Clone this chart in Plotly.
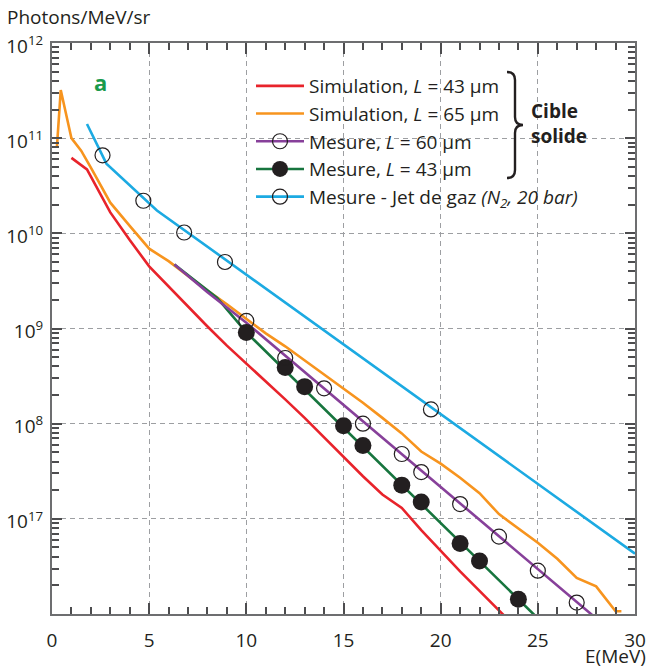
import plotly.graph_objects as go

# ---------------- data ----------------
sim43_x = [1, 1.8, 3, 4, 5, 6, 7, 8, 9, 10, 11, 12, 13, 14, 15, 16, 17, 18, 19, 20, 21, 22, 23, 24]
sim43_y = [6.2e10, 4.7e10, 1.66e10, 8.5e9, 4.5e9, 2.75e9, 1.7e9, 1.05e9, 6.6e8, 4.3e8, 2.75e8, 1.8e8,
           1.15e8, 7.2e7, 4.5e7, 2.8e7, 1.8e7, 1.3e7, 7.6e6, 4.6e6, 2.8e6, 1.75e6, 1.1e6, 6.8e5]

sim65_x = [0.25, 0.45, 1, 1.5, 2, 3, 4, 5, 6, 7, 8, 9, 10, 11, 12, 13, 14, 15, 16, 17, 18, 19, 20,
           21, 22, 23, 24, 25, 26, 27, 28, 29, 29.3]
sim65_y = [7.9e10, 3.2e11, 1.0e11, 7.4e10, 4.9e10, 2.1e10, 1.2e10, 6.9e9, 5.1e9, 3.55e9, 2.5e9, 1.8e9,
           1.26e9, 8.9e8, 6.5e8, 4.6e8, 3.3e8, 2.35e8, 1.66e8, 1.15e8, 7.9e7, 5.1e7, 3.8e7, 2.7e7,
           1.86e7, 1.12e7, 7.9e6, 5.6e6, 3.8e6, 2.4e6, 1.95e6, 1.07e6, 1.07e6]

mes60_line_x = [6.3, 8, 10, 28]
mes60_line_y = [4.7e9, 2.4e9, 1.15e9, 9.0e5]
mes60_x = [10, 12, 14, 16, 18, 19, 21, 23, 25, 27]
mes60_y = [1.2e9, 4.9e8, 2.35e8, 1.0e8, 4.8e7, 3.1e7, 1.43e7, 6.5e6, 2.85e6, 1.32e6]

mes43_line_x = [6.3, 8.5, 10, 25]
mes43_line_y = [4.7e9, 2.1e9, 9.1e8, 9.0e5]
mes43_x = [10, 12, 13, 15, 16, 18, 19, 21, 22, 24]
mes43_y = [9.1e8, 3.9e8, 2.45e8, 9.5e7, 5.9e7, 2.26e7, 1.5e7, 5.5e6, 3.6e6, 1.43e6]

gas_line_x = [1.8, 2.8, 5.4, 30]
gas_line_y = [1.41e11, 5.4e10, 1.74e10, 4.3e6]
gas_x = [2.6, 4.7, 6.8, 8.9, 19.5]
gas_y = [6.6e10, 2.2e10, 1.02e10, 5.0e9, 1.41e8]

y_tickvals = [1e7, 1e8, 1e9, 1e10, 1e11, 1e12]
y_ticktext = ["10<sup>17</sup>", "10<sup>8</sup>", "10<sup>9</sup>", "10<sup>10</sup>",
              "10<sup>11</sup>", "10<sup>12</sup>"]
x_tickvals = [0, 5, 10, 15, 20, 25, 30]

legend_names = [
    "Simulation, <i>L</i> = 43 μm",
    "Simulation, <i>L</i> = 65 μm",
    "Mesure, <i>L</i> = 60 μm",
    "Mesure, <i>L</i> = 43 μm",
    "Mesure - Jet de gaz <i>(N<sub>2</sub>, 20 bar)</i>",
]

# ---------------- styling ----------------
RED = "#e8232b"
ORANGE = "#f7941e"
PURPLE = "#87409a"
GREEN = "#17753e"
BLUE = "#1caae2"
INK = "#231f20"
FONT = "Open Sans"
LW = 2.6

W, H = 652, 668
ML, MR, MT, MB = 52, 17, 43, 54
PW, PH = W - ML - MR, H - MT - MB


def px(xpix):
    return (xpix - ML) / PW


def py(ypix):
    return (H - MB - ypix) / PH


def gaps(xs, ys):
    gx, gy = [], []
    for a, b in zip(xs, ys):
        gx += [a, None]
        gy += [b, None]
    return gx, gy


fig = go.Figure()

open_marker = dict(symbol="circle", size=15, color="rgba(255,255,255,0)",
                   line=dict(color=INK, width=1.2))
filled_marker = dict(symbol="circle", size=17, color=INK, line=dict(color=INK, width=0))

fig.add_trace(go.Scatter(x=sim43_x, y=sim43_y, mode="lines", name=legend_names[0],
                         legendgroup="g1", legendrank=1, line=dict(color=RED, width=LW)))
fig.add_trace(go.Scatter(x=sim65_x, y=sim65_y, mode="lines", name=legend_names[1],
                         legendgroup="g2", legendrank=2, line=dict(color=ORANGE, width=LW)))

# measurement lines (green below purple)
fig.add_trace(go.Scatter(x=mes43_line_x, y=mes43_line_y, mode="lines", showlegend=False,
                         legendgroup="g4", line=dict(color=GREEN, width=LW), hoverinfo="skip"))
fig.add_trace(go.Scatter(x=mes60_line_x, y=mes60_line_y, mode="lines", showlegend=False,
                         legendgroup="g3", line=dict(color=PURPLE, width=LW), hoverinfo="skip"))

# measurement markers
gx, gy = gaps(mes43_x, mes43_y)
fig.add_trace(go.Scatter(x=gx, y=gy, mode="lines+markers", name=legend_names[3], legendgroup="g4",
                         legendrank=4, connectgaps=False, line=dict(color=GREEN, width=LW),
                         marker=filled_marker))
gx, gy = gaps(mes60_x, mes60_y)
fig.add_trace(go.Scatter(x=gx, y=gy, mode="lines+markers", name=legend_names[2], legendgroup="g3",
                         legendrank=3, connectgaps=False, line=dict(color=PURPLE, width=LW),
                         marker=open_marker))

# gas jet
fig.add_trace(go.Scatter(x=gas_line_x, y=gas_line_y, mode="lines", showlegend=False,
                         legendgroup="g5", line=dict(color=BLUE, width=LW), hoverinfo="skip"))
gx, gy = gaps(gas_x, gas_y)
fig.add_trace(go.Scatter(x=gx, y=gy, mode="lines+markers", name=legend_names[4], legendgroup="g5",
                         legendrank=5, connectgaps=False, line=dict(color=BLUE, width=LW),
                         marker=open_marker))

axis_common = dict(
    showline=True, linecolor="#6d6e70", linewidth=2, mirror="ticks",
    ticks="inside", tickcolor="#4d4d4f", tickwidth=1.5,
    showgrid=True, gridcolor="#9d9fa2", gridwidth=1, griddash="5px,4px",
    zeroline=False, tickfont=dict(family=FONT, size=19, color=INK),
    automargin=False,
)

minor_y = []
for e in range(6, 12):
    for k in range(2, 10):
        minor_y.append(k * 10 ** e)

fig.update_xaxes(range=[0, 30], tickmode="array", tickvals=x_tickvals, ticklen=11,
                 minor=dict(dtick=1, tick0=0, ticks="inside", ticklen=7, tickwidth=1.5,
                            tickcolor="#4d4d4f", showgrid=False),
                 ticklabelstandoff=8, **axis_common)
fig.update_yaxes(type="log", range=[6, 12], tickmode="array", tickvals=y_tickvals,
                 ticktext=y_ticktext, ticklen=10, ticklabelshift=3,
                 minor=dict(tickmode="array", tickvals=minor_y, ticks="inside", ticklen=7,
                            tickwidth=1.5, tickcolor="#4d4d4f", showgrid=False),
                 ticklabelstandoff=3, **axis_common)

# white box behind legend (covers grid)
shapes = [
    dict(type="rect", xref="paper", yref="paper", x0=px(249), x1=px(597), y0=py(215), y1=1,
         fillcolor="white", line=dict(width=0), layer="between"),
]
# brace
bp = [(507, 72), (515, 72), (515, 80), (515, 117), (515, 125), (523, 125), (515, 125), (515, 133),
      (515, 170), (515, 178), (507, 178)]
P = [(px(a), py(b)) for a, b in bp]
path = ("M {0[0]},{0[1]} Q {1[0]},{1[1]} {2[0]},{2[1]} L {3[0]},{3[1]} Q {4[0]},{4[1]} {5[0]},{5[1]} "
        "Q {6[0]},{6[1]} {7[0]},{7[1]} L {8[0]},{8[1]} Q {9[0]},{9[1]} {10[0]},{10[1]}").format(*P)
shapes.append(dict(type="path", xref="paper", yref="paper", path=path,
                   line=dict(color=INK, width=2.4), layer="above"))

annotations = [
    dict(text="Photons/MeV/sr", xref="paper", yref="paper", x=px(5), y=py(17),
         xanchor="left", yanchor="middle", showarrow=False,
         font=dict(family=FONT, size=19, color=INK)),
    dict(text="E(MeV)", xref="paper", yref="paper", x=px(648), y=py(656),
         xanchor="right", yanchor="middle", showarrow=False,
         font=dict(family=FONT, size=19, color=INK)),
    dict(text="<b>a</b>", xref="paper", yref="paper", x=px(100), y=py(82),
         xanchor="center", yanchor="middle", showarrow=False,
         font=dict(family=FONT, size=22, color="#1a9a4c")),
    dict(text="<b>Cible<br>solide</b>", xref="paper", yref="paper", x=px(529), y=py(124),
         xanchor="left", yanchor="middle", align="left", showarrow=False,
         font=dict(family=FONT, size=19, color=INK)),
]

fig.update_layout(
    width=W, height=H,
    margin=dict(l=ML, r=MR, t=MT, b=MB),
    paper_bgcolor="white", plot_bgcolor="white",
    font=dict(family=FONT, color=INK),
    showlegend=True,
    legend=dict(x=px(251), y=py(67), xanchor="left", yanchor="top",
                bgcolor="rgba(0,0,0,0)", borderwidth=0,
                font=dict(family=FONT, size=19, color=INK),
                itemwidth=48, tracegroupgap=0, traceorder="normal"),
    shapes=shapes,
    annotations=annotations,
)

fig.write_html("out.html", config={"displayModeBar": False},
               post_script="document.body.style.margin='0';document.body.style.padding='0';")
